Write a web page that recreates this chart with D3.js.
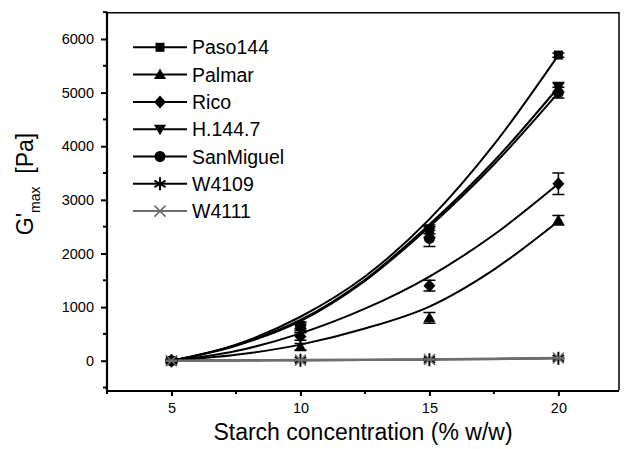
<!DOCTYPE html>
<html>
<head>
<meta charset="utf-8">
<script src="https://cdn.jsdelivr.net/npm/d3@7"></script>
<style>
  body { margin: 0; background: #fff; }
  svg { display: block; font-family: "Liberation Sans", Arial, Helvetica, sans-serif; }
</style>
</head>
<body>
<div id="chart"></div>
<script>
// concentraciones medidas
var concentration = [5, 10, 15, 20];
var seriesNames = ["Paso144", "Palmar", "Rico", "H.144.7", "SanMiguel", "W4109", "W4111"];

// G'max medido (Pa)
var paso144 = [0, 660, 2450, 5700];
var palmar = [0, 260, 800, 2620];
var rico = [0, 450, 1400, 3300];
var h1447 = [0, 600, 2400, 5100];
var sanMiguel = [0, 640, 2280, 5000];
var w4109 = [0, 10, 20, 45];
var w4111 = [0, 12, 22, 50];

// desviaciones
var paso144Err = [20, 60, 80, 40];
var palmarErr = [20, 60, 100, 90];
var ricoErr = [20, 70, 100, 200];
var h1447Err = [20, 70, 100, 90];
var sanMiguelErr = [20, 70, 150, 100];
var w4109Err = [10, 10, 10, 10];
var w4111Err = [10, 10, 10, 10];

// curvas ajustadas
var fitX = [5, 7.5, 10, 12.5, 15, 17.5, 20];
var paso144Fit = [0, 300, 820, 1570, 2640, 4030, 5700];
var palmarFit = [0, 110, 300, 600, 1010, 1700, 2600];
var ricoFit = [0, 180, 510, 970, 1570, 2350, 3300];
var h1447Fit = [0, 290, 760, 1510, 2540, 3720, 5100];
var sanMiguelFit = [0, 280, 740, 1490, 2500, 3660, 5000];
var w4109Fit = [0, 5, 10, 15, 22, 32, 45];
var w4111Fit = [0, 6, 12, 17, 24, 35, 50];

var yMajor = [0, 1000, 2000, 3000, 4000, 5000, 6000];
var yMinor = [-500, 500, 1500, 2500, 3500, 4500, 5500, 6500];
var xMinor = [2.5, 7.5, 12.5, 17.5];

var width = 624, height = 449;
var svg = d3.select("#chart").append("svg")
    .attr("width", width)
    .attr("height", height);

var x = d3.scaleLinear().domain([2.5, 22.35]).range([107, 619]);
var y = d3.scaleLinear().domain([-546, 6490]).range([390, 12.7]);

var series = [
    { name: "Paso144", vals: paso144, err: paso144Err, fit: paso144Fit, sym: "square", color: "#000" },
    { name: "Palmar", vals: palmar, err: palmarErr, fit: palmarFit, sym: "triUp", color: "#000" },
    { name: "Rico", vals: rico, err: ricoErr, fit: ricoFit, sym: "diamond", color: "#000" },
    { name: "H.144.7", vals: h1447, err: h1447Err, fit: h1447Fit, sym: "triDown", color: "#000" },
    { name: "SanMiguel", vals: sanMiguel, err: sanMiguelErr, fit: sanMiguelFit, sym: "circle", color: "#000" },
    { name: "W4109", vals: w4109, err: w4109Err, fit: w4109Fit, sym: "star", color: "#000" },
    { name: "W4111", vals: w4111, err: w4111Err, fit: w4111Fit, sym: "cross", color: "#6e6e6e" }
];

// simbolos estilo Origin
function drawSymbol(g, type, color) {
    if (type == "square") {
        g.append("rect").attr("x", -4.5).attr("y", -4.5).attr("width", 9).attr("height", 9).attr("fill", color);
    } else if (type == "triUp") {
        g.append("path").attr("d", "M0,-6L6,4.5L-6,4.5Z").attr("fill", color);
    } else if (type == "triDown") {
        g.append("path").attr("d", "M0,6L6,-4.5L-6,-4.5Z").attr("fill", color);
    } else if (type == "diamond") {
        g.append("path").attr("d", "M0,-6.5L6,0L0,6.5L-6,0Z").attr("fill", color);
    } else if (type == "circle") {
        g.append("circle").attr("r", 5.5).attr("fill", color);
    } else if (type == "star") {
        g.append("path").attr("d", "M0,-6.5L0,6.5M-5.6,-3.25L5.6,3.25M-5.6,3.25L5.6,-3.25")
            .attr("stroke", color).attr("stroke-width", 2).attr("fill", "none");
    } else if (type == "cross") {
        g.append("path").attr("d", "M-5.5,-5.5L5.5,5.5M-5.5,5.5L5.5,-5.5")
            .attr("stroke", color).attr("stroke-width", 1.6).attr("fill", "none");
    }
}

/* ejes */
var yAxis = svg.append("g")
    .attr("transform", "translate(107,0)")
    .call(d3.axisLeft(y).tickValues(yMajor).tickSize(6).tickPadding(7).tickFormat(d3.format("d")));
yAxis.select(".domain").remove();
yAxis.selectAll("line").attr("stroke-width", 2);
yAxis.selectAll("text").style("font-size", "14.5px").attr("fill", "#000");

svg.append("g").selectAll("line").data(yMinor).enter().append("line")
    .attr("x1", 103).attr("x2", 107)
    .attr("y1", function (d) { return y(d); }).attr("y2", function (d) { return y(d); })
    .attr("stroke", "#000").attr("stroke-width", 2);

var xAxis = svg.append("g")
    .attr("transform", "translate(0,390)")
    .call(d3.axisBottom(x).tickValues(concentration).tickSize(6).tickPadding(7).tickFormat(d3.format("d")));
xAxis.select(".domain").remove();
xAxis.selectAll("line").attr("stroke-width", 2);
xAxis.selectAll("text").style("font-size", "14.5px").attr("fill", "#000");

svg.append("g").selectAll("line").data(xMinor).enter().append("line")
    .attr("x1", function (d) { return x(d); }).attr("x2", function (d) { return x(d); })
    .attr("y1", 390).attr("y2", 394)
    .attr("stroke", "#000").attr("stroke-width", 2);

// marco
svg.append("path")
    .attr("d", "M107,12.7H619V390")
    .attr("fill", "none").attr("stroke", "#000").attr("stroke-width", 1.5);
svg.append("path")
    .attr("d", "M107,11.7V391H619")
    .attr("fill", "none").attr("stroke", "#000").attr("stroke-width", 2.2);

/* curvas de ajuste */
var line = d3.line()
    .x(function (d, i) { return x(fitX[i]); })
    .y(function (d) { return y(d); })
    .curve(d3.curveMonotoneX);

var plot = svg.append("g");
series.forEach(function (s) {
    plot.append("path")
        .datum(s.fit)
        .attr("d", line)
        .attr("fill", "none")
        .attr("stroke", s.color)
        .attr("stroke-width", s.name == "W4111" ? 2.6 : 2);
});

/* barras de error y puntos */
series.forEach(function (s) {
    var g = plot.append("g");
    s.vals.forEach(function (v, i) {
        var cx = x(concentration[i]);
        var top = y(v + s.err[i]), bot = y(v - s.err[i]);
        g.append("path")
            .attr("d", "M" + cx + "," + top + "V" + bot + "M" + (cx - 6) + "," + top + "H" + (cx + 6) + "M" + (cx - 6) + "," + bot + "H" + (cx + 6))
            .attr("stroke", s.color).attr("stroke-width", 1.5).attr("fill", "none");
        var m = g.append("g").attr("transform", "translate(" + cx + "," + y(v) + ")");
        drawSymbol(m, s.sym, s.color);
    });
});

/* leyenda */
var legend = svg.append("g");
series.forEach(function (s, i) {
    var ly = 47.3 + i * 27.3;
    legend.append("line")
        .attr("x1", 133).attr("x2", 187).attr("y1", ly).attr("y2", ly)
        .attr("stroke", s.color).attr("stroke-width", 2);
    var m = legend.append("g").attr("transform", "translate(160," + ly + ")");
    drawSymbol(m, s.sym, s.color);
    legend.append("text")
        .attr("x", 192).attr("y", ly + 7)
        .style("font-size", "19.5px")
        .text(s.name);
});

/* titulos */
svg.append("text")
    .attr("x", 363).attr("y", 440)
    .attr("text-anchor", "middle")
    .style("font-size", "23px")
    .text("Starch concentration (% w/w)");

var yt = svg.append("text")
    .attr("transform", "translate(33,184) rotate(-90)")
    .attr("text-anchor", "middle")
    .style("font-size", "23px");
yt.append("tspan").text("G'");
yt.append("tspan").attr("dy", 7).style("font-size", "14px").text("max");
yt.append("tspan").attr("dy", -7).text("\u00a0\u00a0[Pa]");
</script>
</body>
</html>
